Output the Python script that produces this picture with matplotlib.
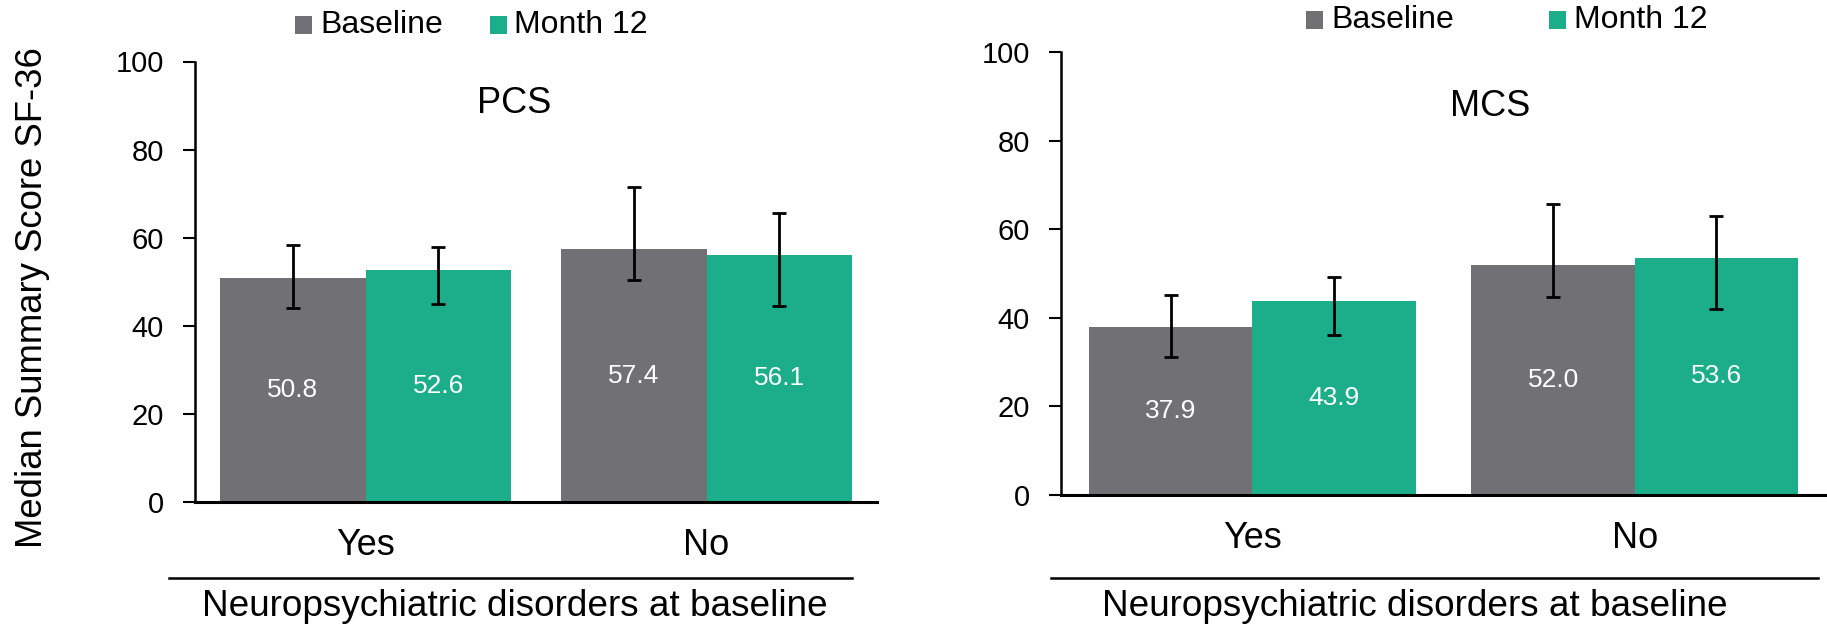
import matplotlib
matplotlib.use("Agg")
import matplotlib.pyplot as plt
from matplotlib.patches import Rectangle
from matplotlib.lines import Line2D
import numpy as np

plt.rcParams['font.family'] = ['Liberation Sans', 'DejaVu Sans']

categories = ["Yes", "No"]
series_names = ["Baseline", "Month 12"]
colors = ["#717075", "#1cae8a"]

pcs_baseline = [50.8, 57.4]
pcs_month12 = [52.6, 56.1]
pcs_baseline_lo = [44.1, 50.4]
pcs_baseline_hi = [58.3, 71.4]
pcs_month12_lo = [44.9, 44.4]
pcs_month12_hi = [57.9, 65.7]

mcs_baseline = [37.9, 52.0]
mcs_month12 = [43.9, 53.6]
mcs_baseline_lo = [31.1, 44.8]
mcs_baseline_hi = [45.1, 65.8]
mcs_month12_lo = [36.1, 42.0]
mcs_month12_hi = [49.3, 63.0]

yticks = [0, 20, 40, 60, 80, 100]
xlabel = "Neuropsychiatric disorders at baseline"
ylabel = "Median Summary Score SF-36"

W, H = 1827, 627
fig = plt.figure(figsize=(W / 100, H / 100), dpi=100)


def fx(px):
    return px / W


def fy(py):
    return 1 - py / H


def make_panel(rect, title, title_xy, base, m12, blo, bhi, mlo, mhi):
    ax = fig.add_axes(rect)
    x = np.arange(len(categories))
    w = 0.427
    data = [(base, blo, bhi), (m12, mlo, mhi)]
    for i, (vals, lo, hi) in enumerate(data):
        pos = x + (i - 0.5) * w
        vals = np.array(vals)
        yerr = np.vstack([vals - np.array(lo), np.array(hi) - vals])
        ax.bar(pos, vals, width=w, color=colors[i], edgecolor="none", zorder=2)
        ax.errorbar(pos, vals, yerr=yerr, fmt="none", ecolor="black",
                    elinewidth=2.0, capsize=5, capthick=2.0, zorder=3)
        for p, v in zip(pos, vals):
            ax.text(p, v / 2, f"{v:.1f}", ha="center", va="center",
                    color="white", fontsize=19, zorder=4)
    ax.set_xlim(-0.5, 1.5)
    ax.set_ylim(0, 100)
    ax.set_yticks(yticks)
    ax.tick_params(axis="y", labelsize=21, length=8.3, width=1.5, pad=14,
                   direction="out")
    ax.set_xticks([])
    for s in ["top", "right"]:
        ax.spines[s].set_visible(False)
    ax.spines["left"].set_linewidth(1.8)
    ax.spines["bottom"].set_linewidth(2.2)
    for xi, c in zip(x, categories):
        ax.annotate(c, xy=(xi, 0), xycoords=("data", "axes fraction"),
                    xytext=(0, -31), textcoords="offset points",
                    ha="center", va="center", fontsize=26)
    ax.text(title_xy[0], title_xy[1], title, ha="center", va="center",
            fontsize=26)
    return ax


# Left panel
make_panel([fx(195), fy(502), fx(877) - fx(195), fy(61.5) - fy(502)],
           "PCS", (0.436, 90.5),
           pcs_baseline, pcs_month12, pcs_baseline_lo, pcs_baseline_hi,
           pcs_month12_lo, pcs_month12_hi)
# Right panel
make_panel([fx(1061), fy(495), fx(1826) - fx(1061), fy(52) - fy(495)],
           "MCS", (0.622, 87.8),
           mcs_baseline, mcs_month12, mcs_baseline_lo, mcs_baseline_hi,
           mcs_month12_lo, mcs_month12_hi)

# Separator lines and x labels
for (x0, x1, cx) in [(169, 852, 515), (1051, 1818, 1415)]:
    fig.add_artist(Line2D([fx(x0), fx(x1)], [fy(578), fy(578)],
                          color="black", linewidth=1.8,
                          transform=fig.transFigure))
    fig.text(fx(cx), fy(607), xlabel, ha="center", va="center",
             fontsize=26.6)

fig.text(fx(33), fy(298), ylabel, rotation=90, ha="center", va="center",
         fontsize=26.3)

# Legends
legend_specs = [
    (25, [(295, 320), (490, 514)]),
    (20, [(1306, 1331), (1549, 1574)]),
]
for cy, items in legend_specs:
    for (sx, tx), name, col in zip(items, series_names, colors):
        fig.add_artist(Rectangle((fx(sx), fy(cy + 9)), fx(17), 18 / H,
                                 facecolor=col, edgecolor="none",
                                 transform=fig.transFigure))
        fig.text(fx(tx), fy(cy), name, ha="left", va="center", fontsize=23)

fig.savefig("out.png", dpi=100)
